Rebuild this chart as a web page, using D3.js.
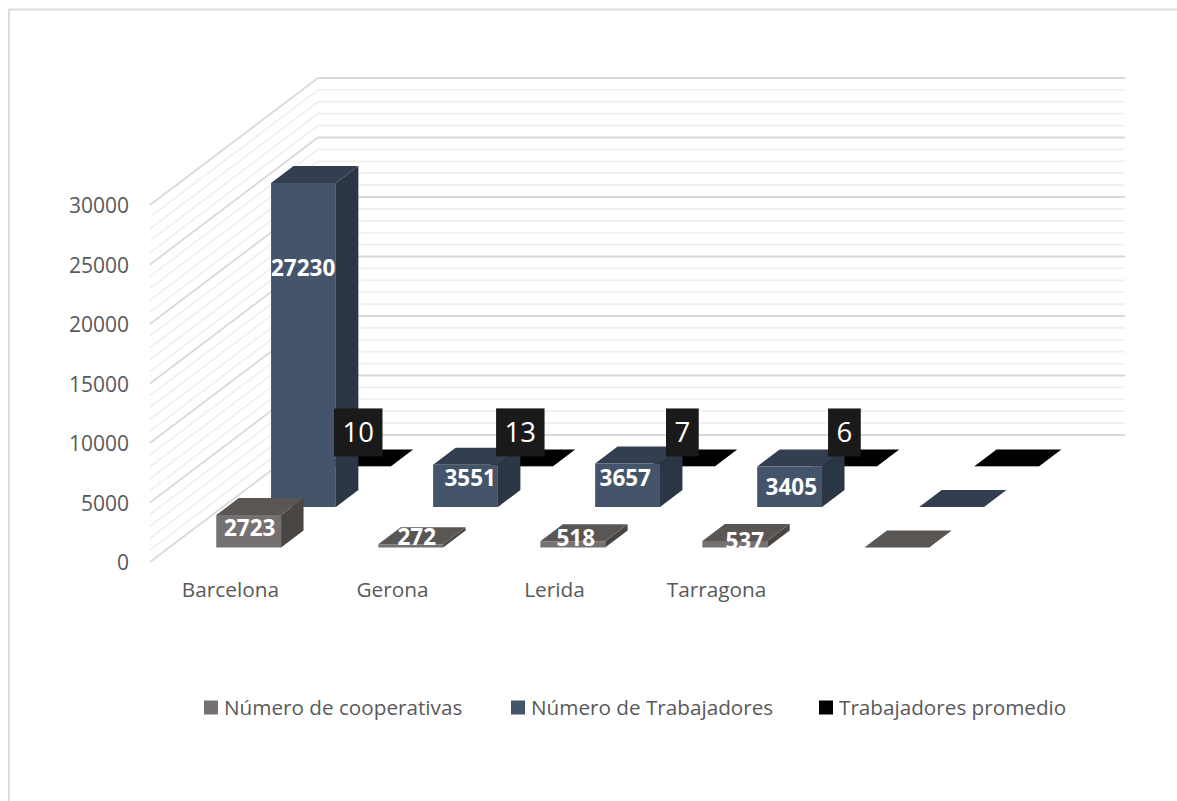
<!DOCTYPE html>
<html>
<head>
<meta charset="utf-8">
<script src="https://cdn.jsdelivr.net/npm/d3@7"></script>
<style>
  html, body { margin: 0; padding: 0; background: #fff; overflow: hidden; }
  text { font-family: "Open Sans", sans-serif; }
</style>
</head>
<body>
<div id="chart-area"></div>
<script>
// Data
var categories = ["Barcelona", "Gerona", "Lerida", "Tarragona", ""];
var seriesNames = ["Número de cooperativas", "Número de Trabajadores", "Trabajadores promedio"];
var cooperativas = [2723, 272, 518, 537, 0];
var trabajadores = [27230, 3551, 3657, 3405, 0];
var promedio = [10, 13, 7, 6, 0];
var yTicks = [0, 5000, 10000, 15000, 20000, 25000, 30000];
var minorStep = 1000;

var width = 1177, height = 801;

// Colours per series: front, top, side
var faces = [
    {front: "#767171", top: "#5a5654", side: "#494543"},
    {front: "#44546a", top: "#333f50", side: "#2a3644"},
    {front: "#000000", top: "#000000", side: "#000000"}
];

// Floor of the 3D box: front left corner plus the vector going to the back wall
var origin = {x: 150, y: 562};
var deep = {x: 168, y: -127};
var floorWidth = 807;

var xScale = d3.scaleBand()
    .domain(d3.range(categories.length))
    .range([0, floorWidth])
    .paddingInner(0.6)
    .paddingOuter(0.29);

var yScale = d3.scaleLinear()
    .domain([0, 30000])
    .range([0, 357]);

// depth position of each series on the floor, 0 = front, 1 = back wall
var zScale = d3.scaleBand()
    .domain(d3.range(seriesNames.length))
    .range([0, 1])
    .paddingInner(0.58)
    .paddingOuter(0.36);

// oblique projection (category position, value, depth) -> screen
function project(x, value, z) {
    return [origin.x + x + deep.x * z, origin.y + deep.y * z - yScale(value)];
}

var svg = d3.select("#chart-area").append("svg")
    .attr("width", width)
    .attr("height", height);

// Frame: the picture is cropped, only top and left edges show
svg.append("path")
    .attr("d", "M9,801V9.5H1177")
    .attr("fill", "none")
    .attr("stroke", "#dcdcdc")
    .attr("stroke-width", 2);

// Gridlines: minor ones first, so the major ones sit on top
var gridValues = d3.range(0, 30000 + minorStep, minorStep);
gridValues.sort(function (a, b) { return (a % 5000 === 0) - (b % 5000 === 0); });

svg.append("g").selectAll("path")
    .data(gridValues)
    .enter().append("path")
    .attr("fill", "none")
    .attr("stroke", function (d) { return d % 5000 === 0 ? "#d9d9d9" : "#f0f0f0"; })
    .attr("stroke-width", 1.8)
    .attr("d", function (d) {
        return d3.line()([project(0, d, 0), project(0, d, 1), project(floorWidth, d, 1)]);
    });

// Axis labels
svg.append("g").selectAll("text")
    .data(yTicks)
    .enter().append("text")
    .attr("x", 129)
    .attr("y", function (d) { return project(0, d, 0)[1] + 1; })
    .attr("text-anchor", "end")
    .attr("dy", "0.35em")
    .attr("font-size", 21)
    .attr("fill", "#595959")
    .text(function (d) { return d; });

svg.append("g").selectAll("text")
    .data(categories)
    .enter().append("text")
    .attr("x", function (d, i) { return project(xScale(i) + xScale.bandwidth() / 2, 0, 0)[0] + 1; })
    .attr("y", 597)
    .attr("text-anchor", "middle")
    .attr("font-size", 20.8)
    .attr("fill", "#595959")
    .text(function (d) { return d; });

// One box per value, back series first so nearer ones cover them
var seriesValues = [cooperativas, trabajadores, promedio];
var barDepth = zScale.bandwidth();
var barWidth = xScale.bandwidth();
var seriesSlip = 1.3; // bars drift a little right of the floor slope from series to series

[2, 1, 0].forEach(function (s) {
    var g = svg.append("g");
    var z = zScale(s);
    var box = g.selectAll("g")
        .data(seriesValues[s])
        .enter().append("g");

    function face(points) {
        return d3.line()(points) + "Z";
    }
    box.append("path")
        .attr("fill", faces[s].side)
        .attr("d", function (d, i) {
            var x = xScale(i) + barWidth + s * seriesSlip;
            return face([project(x, 0, z), project(x, 0, z + barDepth), project(x, d, z + barDepth), project(x, d, z)]);
        });
    box.append("path")
        .attr("fill", faces[s].top)
        .attr("d", function (d, i) {
            var x = xScale(i) + s * seriesSlip;
            return face([project(x, d, z), project(x + barWidth, d, z), project(x + barWidth, d, z + barDepth), project(x, d, z + barDepth)]);
        });
    box.append("path")
        .attr("fill", faces[s].front)
        .attr("stroke", s === 2 ? "#bfbfbf" : "none")
        .attr("stroke-width", 0.5)
        .attr("d", function (d, i) {
            var x = xScale(i) + s * seriesSlip;
            return face([project(x, 0, z), project(x + barWidth, 0, z), project(x + barWidth, d, z), project(x, d, z)]);
        });
});

// Data labels were moved by hand in the original, so each one has its own nudge from the front face centre
var labelNudge = [
    [[1, -3], [6, -9], [3, -6], [10, -3]],
    [[1, -77], [6, -8], [-1, -7], [3, 0]]
];

[0, 1].forEach(function (s) {
    svg.append("g").selectAll("text")
        .data(seriesValues[s].slice(0, 4))
        .enter().append("text")
        .attr("x", function (d, i) {
            return project(xScale(i) + barWidth / 2, 0, zScale(s))[0] + labelNudge[s][i][0];
        })
        .attr("y", function (d, i) {
            return project(0, d / 2, zScale(s))[1] + labelNudge[s][i][1];
        })
        .attr("dy", "0.35em")
        .attr("text-anchor", "middle")
        .attr("font-size", 22.5)
        .attr("font-weight", 700)
        .attr("fill", "#fff")
        .text(function (d) { return d; });
});

// Black boxed labels of the third series
var avg = svg.append("g").selectAll("g")
    .data(promedio.slice(0, 4))
    .enter().append("g")
    .attr("transform", function (d, i) {
        var p = project(xScale(i) + barWidth / 2 + 2 * seriesSlip, d, zScale(2));
        return "translate(" + p[0] + "," + (p[1] - 34) + ")";
    });

var avgText = avg.append("text")
    .attr("dy", "0.35em")
    .attr("text-anchor", "middle")
    .attr("font-size", 27.5)
    .attr("fill", "#fff")
    .text(function (d) { return d; });

avg.insert("rect", "text")
    .attr("fill", "#1a1a1a")
    .attr("y", -24)
    .attr("height", 48)
    .each(function (d, i) {
        var w = avgText.nodes()[i].getComputedTextLength() + 17;
        d3.select(this).attr("x", -w / 2).attr("width", w);
    });

// Legend
var legendX = [204, 511, 819];
var legend = svg.append("g").selectAll("g")
    .data(seriesNames)
    .enter().append("g")
    .attr("transform", function (d, i) { return "translate(" + legendX[i] + ",700.5)"; });

legend.append("rect")
    .attr("width", 14).attr("height", 14)
    .attr("fill", function (d, i) { return faces[i].front; });

legend.append("text")
    .attr("x", 20)
    .attr("y", 7)
    .attr("dy", "0.35em")
    .attr("font-size", 20.7)
    .attr("fill", "#595959")
    .text(function (d) { return d; });
</script>
</body>
</html>
